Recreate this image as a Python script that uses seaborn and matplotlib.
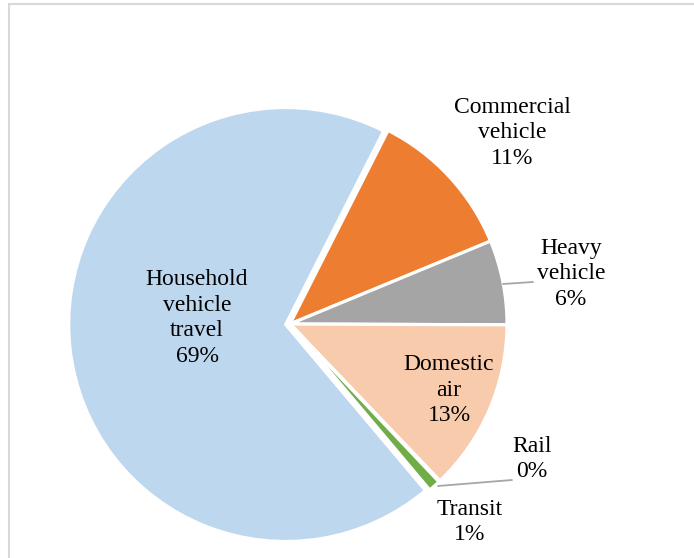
import matplotlib
matplotlib.use("Agg")
import matplotlib.pyplot as plt
import matplotlib.patches as mpatches
import seaborn as sns

categories = ["Household\nvehicle\ntravel", "Commercial\nvehicle", "Heavy\nvehicle",
              "Domestic\nair", "Rail", "Transit"]
values = [68.6, 11.3, 6.3, 12.8, 0.1, 0.9]
pct_labels = ["69%", "11%", "6%", "13%", "0%", "1%"]
colors = ["#BDD7EE", "#ED7D31", "#A5A5A5", "#F8CBAD", "#FFC000", "#70AD47"]

sns.set_theme(style="white")
plt.rcParams["font.family"] = ["Liberation Serif", "DejaVu Serif"]

W, H = 694, 558
fig = plt.figure(figsize=(W / 100, H / 100), dpi=100)
ax = fig.add_axes([0, 0, 1, 1])

cx, cy, R = 290, 324, 217
explode = [0.02, 0, 0, 0, 0, 0]
wedges, _ = ax.pie(values, colors=colors, startangle=-49.9, counterclock=False,
                   explode=explode, radius=1.0,
                   wedgeprops=dict(edgecolor="white", linewidth=2.3))

ax.set_xlim(-cx / R, (W - cx) / R)
ax.set_ylim((cy - H) / R, cy / R)
ax.set_aspect("auto")
ax.axis("off")

def px(x, y):
    return ((x - cx) / R, (cy - y) / R)

label_pos = [px(197, 318), px(512, 133), px(571, 274), px(449, 390),
             px(532, 459), px(470, 522)]
for cat, p, pos in zip(categories, pct_labels, label_pos):
    ax.text(pos[0], pos[1], f"{cat}\n{p}", ha="center", va="center",
            fontsize=17, color="black", linespacing=1.3)

# leader lines
for (x0, y0), (x1, y1) in [((503, 284), (533, 282)), ((438, 486), (512, 480))]:
    a, b = px(x0, y0), px(x1, y1)
    ax.plot([a[0], b[0]], [a[1], b[1]], color="#A6A6A6", lw=1.3)

# chart-area frame (only top and left visible)
rect = mpatches.Rectangle((8.5 / W, -0.1), 1.2, 1.1 - 4.5 / H,
                          transform=fig.transFigure, fill=False,
                          edgecolor="#D9D9D9", lw=1.5)
fig.patches.append(rect)

fig.savefig("out.png", dpi=100, facecolor="white")
